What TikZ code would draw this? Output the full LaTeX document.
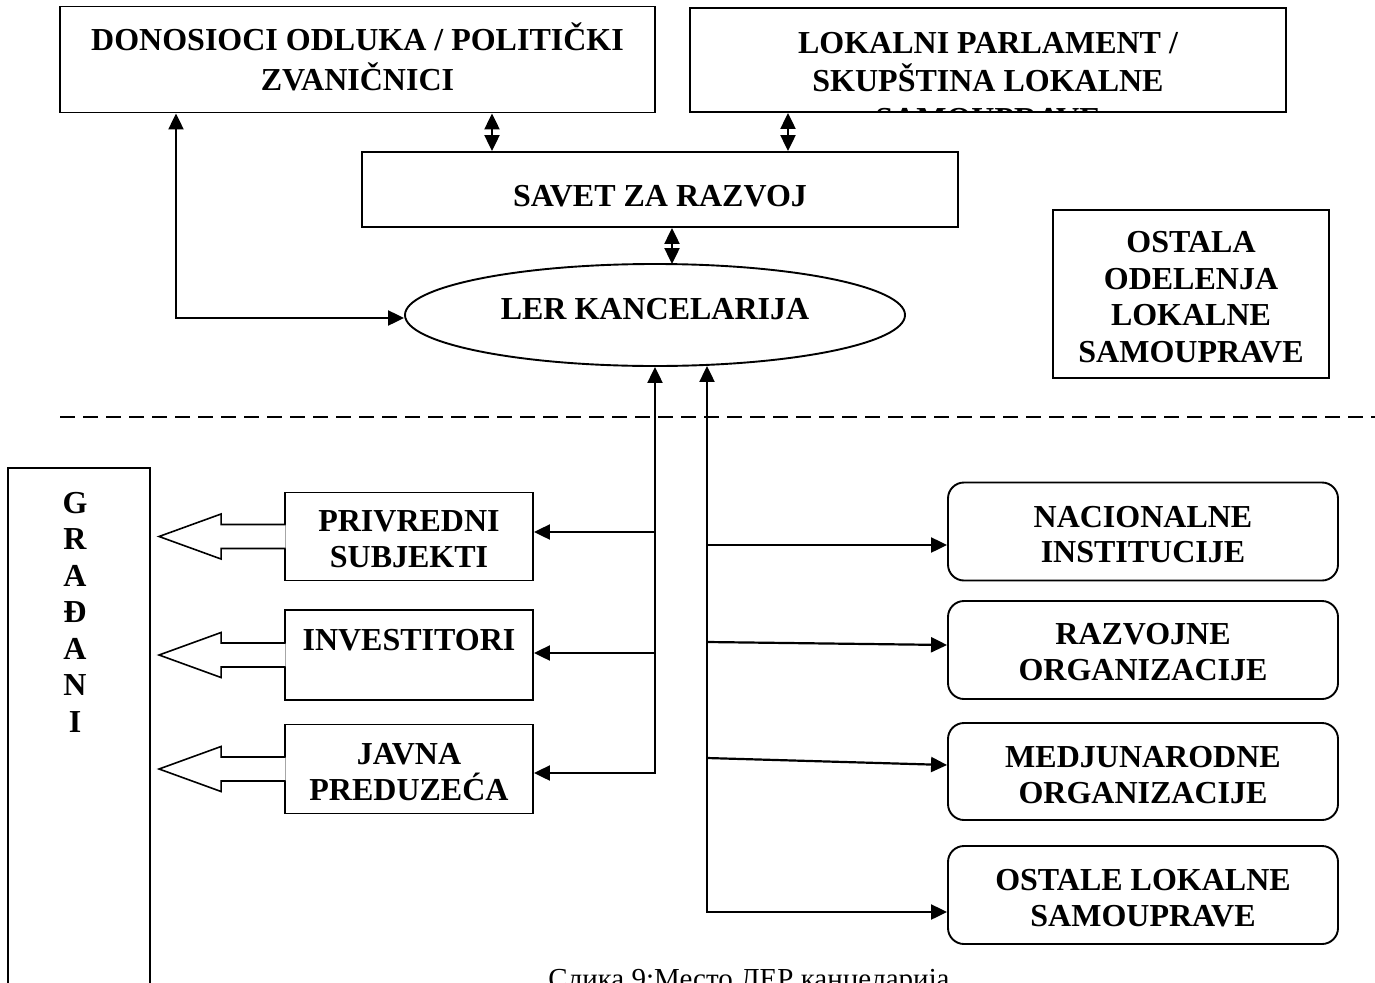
\documentclass[tikz,border=0pt]{standalone}
\usepackage{fontspec}
\setmainfont{Liberation Serif}
\usetikzlibrary{arrows.meta,shapes.geometric}

% filled white block arrow pointing left out of a box's west side
\newcommand\blockarrow[1]{%
  \filldraw[barrow] ([shift={(1.5,-12)}]#1.west) -- ++(-64.5,0) -- ++(0,-10.5)
    -- ++(-62,22.5) -- ++(62,22.5) -- ++(0,-10.5) -- ++(64.5,0);}

\begin{document}
\begin{tikzpicture}[x=1pt,y=-1pt,
  lbl/.style={font=\fontsize{32}{37}\selectfont\bfseries, align=center, inner sep=0pt},
  box/.style={draw, line width=1.9pt, rectangle, inner sep=0pt},
  rbox/.style={box, rounded corners=16pt},
  conn/.style={line width=2.2pt},
  tipped/.style={conn, -{Triangle[length=16pt,width=15pt]}},
  dbl/.style={conn, {Triangle[length=16pt,width=15pt]}-{Triangle[length=16pt,width=15pt]}},
  barrow/.style={fill=white, draw=black, line width=1.6pt, line join=miter},
  sep/.style={line width=1.6pt, dash pattern=on 15pt off 8pt}
]
\useasboundingbox (0,0) rectangle (1375,982);
\clip (0,0) rectangle (1375,982);

% upper level
\node[box, minimum width=595pt, minimum height=106pt] (don) at (357.5,59.5) {};
\node[lbl, font=\fontsize{32}{40}\selectfont\bfseries] (donT) at (357.5,56.5) {DONOSIOCI ODLUKA / POLITIČKI\\ZVANIČNICI};

\node[box, minimum width=596pt, minimum height=104pt] (lok) at (988,60) {};
\begin{scope}
  \clip (lok.south west) rectangle (lok.north east);
  \node[lbl, font=\fontsize{32}{38}\selectfont\bfseries] (lokT) at (988,81) {LOKALNI PARLAMENT /\\SKUPŠTINA LOKALNE\\SAMOUPRAVE};
\end{scope}

\node[box, minimum width=596pt, minimum height=75pt] (sav) at (660,189.5) {};
\node[lbl] (savT) at (660,196) {SAVET ZA RAZVOJ};

\node[draw, ellipse, line width=1.9pt, minimum width=500pt, minimum height=102pt, inner sep=0pt] (ler) at (655,315) {};
\node[lbl] (lerT) at (655,309) {LER KANCELARIJA};

\node[box, minimum width=276pt, minimum height=168pt] (ost) at (1191,294) {};
\node[lbl, font=\fontsize{32}{36.5}\selectfont\bfseries] (ostT) at (1191,297) {OSTALA\\ODELENJA\\LOKALNE\\SAMOUPRAVE};

% separator
\coordinate (dashL) at (60,417);
\coordinate (dashR) at (1375,417);
\draw[sep] (dashL) -- (dashR);

% citizens
\node[box, minimum width=142pt, minimum height=544pt] (grad) at (79,740) {};
\node[lbl, font=\fontsize{32}{36.5}\selectfont\bfseries] (gradT) at (75,612) {G\\R\\A\\Đ\\A\\N\\I};

% left group
\node[box, minimum width=248pt, minimum height=88pt] (priv) at (409,536.5) {};
\node[lbl, font=\fontsize{32}{36}\selectfont\bfseries] (privT) at (409,539) {PRIVREDNI\\SUBJEKTI};
\node[box, minimum width=248pt, minimum height=90pt] (inv) at (409,655) {};
\node[lbl] (invT) at (409,640) {INVESTITORI};
\node[box, minimum width=248pt, minimum height=89pt] (jav) at (409,769) {};
\node[lbl, font=\fontsize{32}{36}\selectfont\bfseries] (javT) at (409,772) {JAVNA\\PREDUZEĆA};

\blockarrow{priv}
\blockarrow{inv}
\blockarrow{jav}

% right group
\node[rbox, minimum width=390pt, minimum height=98pt] (nac) at (1143,531.5) {};
\node[lbl, font=\fontsize{32}{35}\selectfont\bfseries] (nacT) at (1143,534.5) {NACIONALNE\\INSTITUCIJE};
\node[rbox, minimum width=390pt, minimum height=98pt] (raz) at (1143,650) {};
\node[lbl, font=\fontsize{32}{36}\selectfont\bfseries] (razT) at (1143,652) {RAZVOJNE\\ORGANIZACIJE};
\node[rbox, minimum width=390pt, minimum height=97pt] (med) at (1143,771.5) {};
\node[lbl, font=\fontsize{32}{36}\selectfont\bfseries] (medT) at (1143,775) {MEDJUNARODNE\\ORGANIZACIJE};
\node[rbox, minimum width=390pt, minimum height=98pt] (osl) at (1143,895) {};
\node[lbl, font=\fontsize{32}{36}\selectfont\bfseries] (oslT) at (1143,898) {OSTALE LOKALNE\\SAMOUPRAVE};

% caption
\node[font=\fontsize{29}{34}\selectfont, anchor=base, inner sep=0pt] (cap) at (749,988) {Слика 9:Место ЛЕР канцеларија};

% connector end points on the boxes
\coordinate (privE) at ([yshift=4.5pt]priv.east);
\coordinate (invE)  at ([yshift=2pt]inv.east);
\coordinate (javE)  at ([yshift=-4pt]jav.east);
\coordinate (nacW)  at ([yshift=-13.5pt]nac.west);
\coordinate (razW)  at ([yshift=5pt]raz.west);
\coordinate (medW)  at ([yshift=6.5pt]med.west);
\coordinate (oslW)  at ([yshift=-17pt]osl.west);

% connectors, upper level
\coordinate (cA) at (492,0);
\coordinate (cB) at (788,0);
\coordinate (cC) at (672,0);
\coordinate (cD) at (176,0);
\draw[dbl] (don.south -| cA) -- (sav.north -| cA);
\draw[dbl] (lok.south -| cB) -- (sav.north -| cB);
\draw[dbl] (sav.south -| cC) -- ([yshift=-1pt]ler.north -| cC);
\draw[dbl] (don.south -| cD) |- ([yshift=-3pt]ler.west);

% left trunk
\draw[dbl] (ler.south) -- (ler.south |- javE) -- (javE);
\draw[tipped] (ler.south |- privE) -- (privE);
\draw[tipped] (ler.south |- invE) -- (invE);

% right trunk
\coordinate (cR) at (707,0);
\coordinate (r2) at (707,642);
\coordinate (r3) at (707,758);
\draw[dbl] ([yshift=1pt]ler.south -| cR) -- (cR |- oslW) -- (oslW);
\draw[tipped] (cR |- nacW) -- (nacW);
\draw[tipped] (r2) -- (razW);
\draw[tipped] (r3) -- (medW);
\end{tikzpicture}
\end{document}
